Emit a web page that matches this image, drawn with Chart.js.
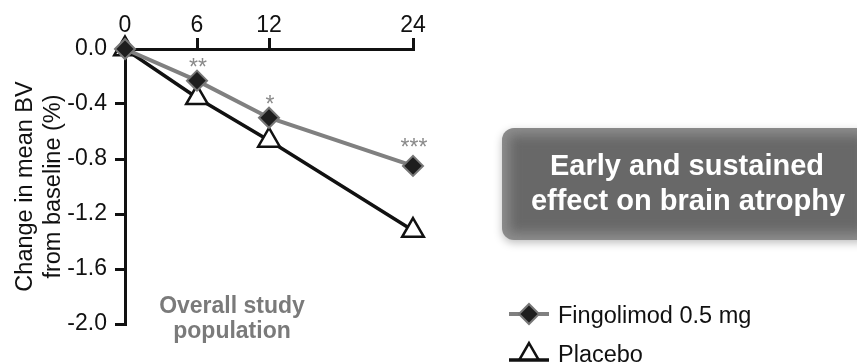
<!DOCTYPE html>
<html>
<head>
<meta charset="utf-8">
<script src="https://cdn.jsdelivr.net/npm/chart.js@4/dist/chart.umd.min.js"></script>
<style>
  html, body { margin: 0; padding: 0; background: #fff; }
  #wrap { width: 857px; height: 364px; position: relative; }
</style>
</head>
<body>
<div id="wrap"><canvas id="atrophyChart" width="857" height="364"></canvas></div>
<script>
// data
const months = [0, 6, 12, 24];
const fingolimod = [0, -0.23, -0.50, -0.85];
const placebo = [0, -0.355, -0.665, -1.32];
const yTicks = [0, -0.4, -0.8, -1.2, -1.6, -2.0];
const stars = ['', '**', '*', '***'];

const FONT = '"Liberation Sans", Arial, Helvetica, sans-serif';

function pts(ys) {
  return months.map((m, i) => ({ x: m, y: ys[i] }));
}

function drawMarker(ctx, style, x, y, r) {
  if (style === 'rectRot') {
    ctx.moveTo(x, y - r);
    ctx.lineTo(x + r, y);
    ctx.lineTo(x, y + r);
    ctx.lineTo(x - r, y);
    ctx.closePath();
  } else {
    ctx.moveTo(x, y - r);
    ctx.lineTo(x + r * 0.866, y + r / 2);
    ctx.lineTo(x - r * 0.866, y + r / 2);
    ctx.closePath();
  }
}

// draws the stuff Chart.js has no slot for: axis title, stars, notes, box, legend
const extras = {
  id: 'extras',
  afterDatasetsDraw(chart) {
    const ctx = chart.ctx;
    const xs = chart.scales.x, ys = chart.scales.y;
    ctx.save();

    // significance stars over fingolimod points
    ctx.fillStyle = '#8a8a8a';
    ctx.font = '23px ' + FONT;
    ctx.textAlign = 'center';
    ctx.textBaseline = 'alphabetic';
    stars.forEach((s, i) => {
      if (!s) return;
      const px = xs.getPixelForValue(months[i]);
      const py = ys.getPixelForValue(fingolimod[i]);
      ctx.fillText(s, px + 1, py - 6 - (i === 3 ? 5 : 0));
    });

    // y axis title, two lines
    ctx.save();
    ctx.translate(0, (chart.chartArea.top + chart.chartArea.bottom) / 2);
    ctx.rotate(-Math.PI / 2);
    ctx.fillStyle = '#111';
    ctx.font = '23.5px ' + FONT;
    ctx.textAlign = 'center';
    ctx.fillText('Change in mean BV', 0, 32);
    ctx.fillText('from baseline (%)', 0, 60);
    ctx.restore();

    // subgroup note inside plot
    ctx.fillStyle = '#7a7a7a';
    ctx.font = 'bold 23px ' + FONT;
    ctx.textAlign = 'center';
    ctx.fillText('Overall study', 232, 313);
    ctx.fillText('population', 232, 338);

    // rounded grey call-out box
    const bx = 502, by = 128, bw = 370, bh = 112, br = 12;
    ctx.save();
    ctx.shadowColor = 'rgba(0,0,0,0.25)';
    ctx.shadowBlur = 8;
    ctx.shadowOffsetY = 3;
    ctx.beginPath();
    ctx.roundRect(bx, by, bw, bh, br);
    ctx.fillStyle = '#8e8e8e';
    ctx.fill();
    ctx.restore();
    ctx.save();
    ctx.beginPath();
    ctx.roundRect(bx, by, bw, bh, br);
    ctx.clip();
    ctx.filter = 'blur(6px)';
    ctx.fillStyle = '#686868';
    ctx.fillRect(bx + 7, by + 7, bw - 14, bh - 14);
    ctx.restore();

    ctx.fillStyle = '#fff';
    ctx.font = 'bold 29px ' + FONT;
    ctx.textAlign = 'center';
    ctx.fillText('Early and sustained', 687, 175);
    ctx.fillText('effect on brain atrophy', 688, 210);

    // legend
    const ds = chart.data.datasets;
    const rows = [{ y: 314, my: 314, ty: 323, r: 10 }, { y: 360, my: 354, ty: 362, r: 11 }];
    ds.forEach((d, i) => {
      const r = rows[i];
      ctx.strokeStyle = d.borderColor;
      ctx.lineWidth = d.borderWidth;
      ctx.beginPath();
      ctx.moveTo(509, r.y);
      ctx.lineTo(549, r.y);
      ctx.stroke();
      ctx.fillStyle = d.pointBackgroundColor;
      ctx.strokeStyle = d.pointBorderColor;
      ctx.lineWidth = d.pointBorderWidth;
      ctx.beginPath();
      drawMarker(ctx, d.pointStyle, 529, r.my, r.r);
      ctx.fill();
      ctx.stroke();
      ctx.fillStyle = '#111';
      ctx.font = '23.5px ' + FONT;
      ctx.textAlign = 'left';
      ctx.fillText(d.label, 558, r.ty);
    });

    ctx.restore();
  }
};

new Chart(document.getElementById('atrophyChart'), {
  type: 'line',
  data: {
    datasets: [
      {
        label: 'Fingolimod 0.5 mg',
        data: pts(fingolimod),
        borderColor: '#808080',
        borderWidth: 4,
        pointStyle: 'rectRot',
        pointRadius: 10,
        pointBackgroundColor: '#1e1e1e',
        pointBorderColor: '#777',
        pointBorderWidth: 2,
        clip: false
      },
      {
        label: 'Placebo',
        data: pts(placebo),
        borderColor: '#111',
        borderWidth: 3.5,
        pointStyle: 'triangle',
        pointRadius: 12.5,
        pointBackgroundColor: '#fff',
        pointBorderColor: '#111',
        pointBorderWidth: 2.5,
        clip: false
      }
    ]
  },
  options: {
    responsive: false,
    animation: false,
    devicePixelRatio: 1,
    layout: { padding: { left: 0, top: 0, right: 444, bottom: 40 } },
    plugins: { legend: { display: false }, tooltip: { enabled: false } },
    scales: {
      x: {
        type: 'linear',
        position: 'top',
        min: 0,
        max: 24,
        afterBuildTicks: s => { s.ticks = months.map(v => ({ value: v })); },
        afterFit: s => { s.height = 49; },
        ticks: { color: '#111', font: { family: FONT, size: 23 }, padding: -1, maxRotation: 0 },
        grid: { drawOnChartArea: false, color: '#111', lineWidth: 3, tickLength: 11 },
        border: { color: '#111', width: 3 }
      },
      y: {
        min: -2,
        max: 0,
        afterBuildTicks: s => { s.ticks = yTicks.map(v => ({ value: v })); },
        afterFit: s => { s.width = 125; },
        ticks: {
          color: '#111',
          font: { family: FONT, size: 23 },
          padding: 8,
          callback: v => v.toFixed(1)
        },
        grid: { drawOnChartArea: false, color: '#111', lineWidth: 3, tickLength: 10 },
        border: { color: '#111', width: 3 }
      }
    }
  },
  plugins: [extras]
});
</script>
</body>
</html>
